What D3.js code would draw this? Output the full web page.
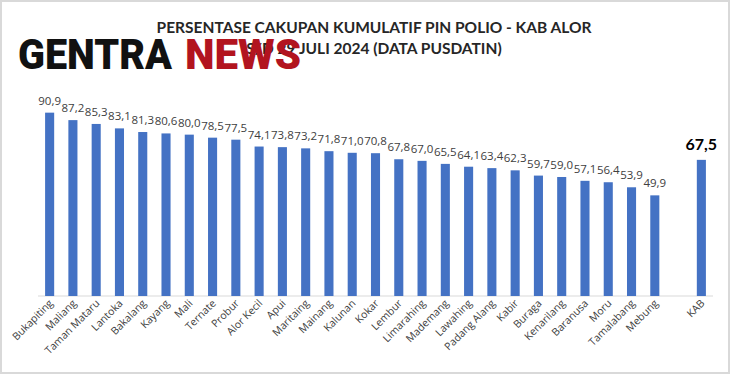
<!DOCTYPE html>
<html>
<head>
<meta charset="utf-8">
<script src="https://cdn.jsdelivr.net/npm/d3@7"></script>
<style>
  html, body { margin: 0; padding: 0; background: #fff; }
  #chart { width: 730px; height: 374px; }
</style>
</head>
<body>
<div id="chart"></div>
<script>
// Districts, in the order shown
const districts = ["Bukapiting", "Maliang", "Taman Mataru", "Lantoka", "Bakalang", "Kayang", "Mali",
  "Ternate", "Probur", "Alor Kecil", "Apui", "Maritaing", "Mainang", "Kalunan", "Kokar", "Lembur",
  "Limarahing", "Mademang", "Lawahing", "Padang Alang", "Kabir", "Buraga", "Kenarilang", "Baranusa",
  "Moru", "Tamalabang", "Mebung"];
const coverage = [90.9, 87.2, 85.3, 83.1, 81.3, 80.6, 80.0, 78.5, 77.5, 74.1, 73.8, 73.2, 71.8, 71.0,
  70.8, 67.8, 67.0, 65.5, 64.1, 63.4, 62.3, 59.7, 59.0, 57.1, 56.4, 53.9, 49.9];
const totalLabel = "KAB";
const totalValue = 67.5;

const titleLines = ["PERSENTASE CAKUPAN KUMULATIF PIN POLIO - KAB ALOR", "S/D 29 JULI 2024 (DATA PUSDATIN)"];

const W = 730, H = 374;
const bars = districts.map((d, i) => ({ key: d, name: d, value: coverage[i], total: false }));
const gapKey = "__gap__";
bars.push({ key: totalLabel, name: totalLabel, value: totalValue, total: true });
const domain = districts.concat([gapKey, totalLabel]);

const svg = d3.select("#chart").append("svg")
  .attr("width", W).attr("height", H);

svg.append("rect").attr("x", 1).attr("y", 1).attr("width", W - 2).attr("height", H - 2)
  .attr("fill", "#fff").attr("stroke", "#d9d9d9").attr("stroke-width", 2);

const x = d3.scaleBand().domain(domain).range([38, 713]).paddingInner(0.61).paddingOuter(0.305);
const y = d3.scaleLinear().domain([0, 100]).range([296, 94.3]);

// baseline
svg.append("line").attr("x1", 38).attr("x2", 713).attr("y1", y(0)).attr("y2", y(0))
  .attr("stroke", "#d9d9d9").attr("stroke-width", 1);

svg.selectAll(".bar").data(bars).enter().append("rect")
  .attr("class", "bar")
  .attr("x", d => x(d.key))
  .attr("width", x.bandwidth())
  .attr("y", d => y(d.value))
  .attr("height", d => y(0) - y(d.value))
  .attr("fill", "#4472c4");

const fmt = v => v.toFixed(1).replace(".", ",");

svg.selectAll(".val").data(bars).enter().append("text")
  .attr("class", "val")
  .attr("x", d => x(d.key) + x.bandwidth() / 2)
  .attr("y", d => y(d.value) - (d.total ? 10 : 8))
  .attr("text-anchor", "middle")
  .attr("font-family", d => d.total ? "Lato, sans-serif" : "'Open Sans', sans-serif")
  .attr("font-size", d => d.total ? 16 : 11.5)
  .attr("font-weight", d => d.total ? 700 : 400)
  .attr("fill", d => d.total ? "#000" : "#404040")
  .text(d => fmt(d.value));

// category labels
svg.selectAll(".cat").data(bars).enter().append("text")
  .attr("class", "cat")
  .attr("transform", d => `translate(${x(d.key) + x.bandwidth() / 2 + 4},${y(0) + 8}) rotate(-45)`)
  .attr("text-anchor", "end")
  .attr("font-family", "'Open Sans', sans-serif")
  .attr("font-size", 10.5)
  .attr("fill", "#404040")
  .text(d => d.name);

// title
svg.selectAll(".title").data(titleLines).enter().append("text")
  .attr("class", "title")
  .attr("x", 374)
  .attr("y", (d, i) => 33 + i * 21)
  .attr("text-anchor", "middle")
  .attr("font-family", "Lato, 'Open Sans', sans-serif")
  .attr("font-size", 15.5)
  .attr("font-weight", 700)
  .attr("fill", "#262626")
  .text(d => d);

// watermark logo
const logo = svg.append("g").attr("font-family", "Roboto, 'DejaVu Sans', sans-serif")
  .attr("font-weight", 900).attr("font-size", 42);
logo.append("text").attr("x", 18).attr("y", 69)
  .attr("textLength", 154).attr("lengthAdjust", "spacingAndGlyphs")
  .attr("fill", "#111").text("GENTRA");
logo.append("text").attr("x", 185).attr("y", 69)
  .attr("textLength", 116).attr("lengthAdjust", "spacingAndGlyphs")
  .attr("fill", "#b2141f").text("NEWS");
</script>
</body>
</html>
